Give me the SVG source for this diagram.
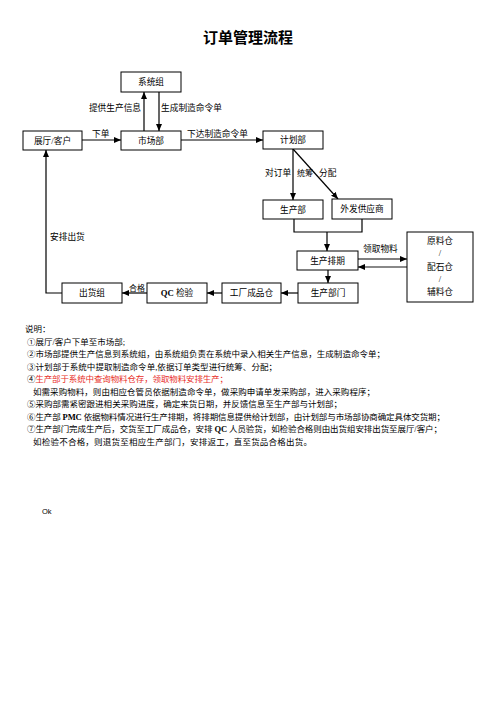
<svg xmlns="http://www.w3.org/2000/svg" width="496" height="702" viewBox="0 0 496 702">
<defs>
<marker id="ah" markerUnits="userSpaceOnUse" markerWidth="7" markerHeight="6" refX="7" refY="3" orient="auto"><path d="M0,0 L7,3 L0,6 z" fill="#000"/></marker>
<marker id="ahg" markerUnits="userSpaceOnUse" markerWidth="7" markerHeight="6" refX="7" refY="3" orient="auto"><path d="M0,0 L7,3 L0,6 z" fill="#000"/></marker>
<style>
text{font-family:"Liberation Serif","Noto Sans CJK SC",serif;fill:#000}
.box rect{fill:#fff;stroke:#000;stroke-width:1}
.box text{font-size:8.7px;text-anchor:middle}
.lbl{font-size:8.7px}
.note{font-size:8.5px}
.red{fill:#e8302a}
#connectors line,#connectors polyline{stroke:#000;stroke-width:1.2;fill:none}
</style>
</defs>
<rect width="496" height="702" fill="#fff"/>
<text x="248" y="43" font-size="15" font-weight="bold" text-anchor="middle">订单管理流程</text>

<g id="connectors">
<line x1="144" y1="131" x2="144" y2="92" marker-end="url(#ah)"/>
<line x1="159" y1="92" x2="159" y2="131" marker-end="url(#ah)"/>
<line x1="82" y1="140" x2="121" y2="140" marker-end="url(#ah)"/>
<line x1="181" y1="140" x2="263" y2="140" marker-end="url(#ah)"/>
<line x1="293" y1="149" x2="293" y2="200" marker-end="url(#ah)"/>
<line x1="293" y1="149" x2="338" y2="199" marker-end="url(#ah)"/>
<polyline points="294,219 294,232 362,232 362,219"/>
<line x1="327" y1="232" x2="327" y2="251" marker-end="url(#ah)"/>
<line x1="358" y1="259" x2="407" y2="259" marker-end="url(#ah)"/>
<line x1="407" y1="267" x2="358" y2="267" style="stroke:#888;stroke-width:2" marker-end="url(#ahg)"/>
<line x1="328" y1="270" x2="328" y2="283" marker-end="url(#ah)"/>
<line x1="298" y1="293" x2="281" y2="293" marker-end="url(#ah)"/>
<line x1="222" y1="293" x2="207" y2="293" marker-end="url(#ah)"/>
<line x1="147" y1="293" x2="122" y2="293" marker-end="url(#ah)"/>
<polyline points="62,293 46,293 46,150" marker-end="url(#ah)"/>
<text class="lbl" x="141" y="111" text-anchor="end">提供生产信息</text>
<text class="lbl" x="161" y="111">生成制造命令单</text>
<text class="lbl" x="92" y="137">下单</text>
<text class="lbl" x="187" y="137">下达制造命令单</text>
<text class="lbl" x="265" y="176">对订单</text>
<text class="lbl" x="297" y="176" style="font-size:8px">统筹</text>
<text class="lbl" x="319" y="176">分配</text>
<text class="lbl" x="50" y="240">安排出货</text>
<text class="lbl" x="363" y="252">领取物料</text>
<text class="lbl" x="129" y="291" style="font-size:8px">合格</text>
</g>

<g id="n-xitongzu" class="box"><rect x="121" y="72" width="60" height="20"/><text x="151" y="85">系统组</text></g>
<g id="n-zhanting" class="box"><rect x="23" y="131" width="59" height="19"/><text x="52.5" y="143.5">展厅/客户</text></g>
<g id="n-shichangbu" class="box"><rect x="121" y="131" width="60" height="19"/><text x="151" y="143.5">市场部</text></g>
<g id="n-jihuabu" class="box"><rect x="263" y="131" width="60" height="18"/><text x="293" y="143">计划部</text></g>
<g id="n-shengchanbu" class="box"><rect x="263" y="200" width="60" height="19"/><text x="293" y="212.5">生产部</text></g>
<g id="n-waifa" class="box"><rect x="332" y="199" width="60" height="20"/><text x="362" y="212">外发供应商</text></g>
<g id="n-paiqi" class="box"><rect x="297" y="251" width="61" height="19"/><text x="327.5" y="263.5">生产排期</text></g>
<g id="n-cang" class="box"><rect x="407" y="232" width="66" height="70"/><text x="440" y="244">原料仓</text><text x="440" y="256">/</text><text x="440" y="270">配石仓</text><text x="440" y="282">/</text><text x="440" y="295">辅料仓</text></g>
<g id="n-bumen" class="box"><rect x="298" y="283" width="60" height="20"/><text x="328" y="296">生产部门</text></g>
<g id="n-chengpin" class="box"><rect x="222" y="283" width="59" height="20"/><text x="251.5" y="296">工厂成品仓</text></g>
<g id="n-qc" class="box"><rect x="147" y="283" width="60" height="20"/><text x="177" y="296"><tspan font-weight="bold">QC</tspan> 检验</text></g>
<g id="n-chuhuo" class="box"><rect x="62" y="283" width="60" height="20"/><text x="92" y="296">出货组</text></g>

<g id="notes">
<text class="note" x="25" y="332">说明：</text>
<text class="note" x="27" y="345" textLength="98" lengthAdjust="spacing">①展厅/客户下单至市场部;</text>
<text class="note" x="27" y="357" textLength="358" lengthAdjust="spacing">②市场部提供生产信息到系统组，由系统组负责在系统中录入相关生产信息，生成制造命令单；</text>
<text class="note" x="27" y="370" textLength="250" lengthAdjust="spacing">③计划部于系统中提取制造命令单,依据订单类型进行统筹、分配；</text>
<text class="note" x="27" y="382" textLength="201" lengthAdjust="spacing">④<tspan class="red">生产部于系统中查询物料仓存，领取物料安排生产；</tspan></text>
<text class="note" x="33" y="395" textLength="342" lengthAdjust="spacing">如需采购物料，则由相应仓管员依据制造命令单，做采购申请单发采购部，进入采购程序；</text>
<text class="note" x="27" y="407" textLength="315" lengthAdjust="spacing">⑤采购部需紧密跟进相关采购进度，确定来货日期，并反馈信息至生产部与计划部；</text>
<text class="note" x="27" y="420" textLength="418" lengthAdjust="spacing">⑥生产部 <tspan font-weight="bold">PMC</tspan> 依据物料情况进行生产排期，将排期信息提供给计划部，由计划部与市场部协商确定具体交货期；</text>
<text class="note" x="27" y="432" textLength="415" lengthAdjust="spacing">⑦生产部门完成生产后，交货至工厂成品仓，安排 <tspan font-weight="bold">QC</tspan> 人员验货，如检验合格则由出货组安排出货至展厅/客户；</text>
<text class="note" x="33" y="445" textLength="279" lengthAdjust="spacing">如检验不合格，则退货至相应生产部门，安排返工，直至货品合格出货。</text>
<text x="42" y="514" style="font-size:7.5px;font-family:'Liberation Sans',sans-serif">Ok</text>
</g>
</svg>
